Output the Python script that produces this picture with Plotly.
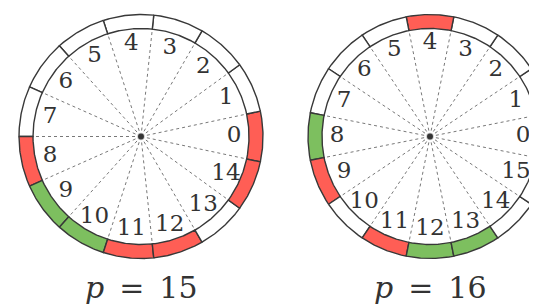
import numpy as np
import plotly.graph_objects as go

# ---- data ----
p_values = [15, 16]
title_numbers = ["15", "16"]
# sector states: r = red, g = green, w = white
states_15 = ["r", "w", "w", "w", "w", "w", "w", "w", "r", "g", "g", "r", "r", "w", "r"]
states_16 = ["r", "w", "w", "w", "r", "w", "w", "w", "g", "r", "w", "r", "g", "g", "w", "w"]
all_states = [states_15, states_16]

# ---- layout constants ----
W, H = 537, 306
centers = [(133.0, 128.5), (422.0, 128.5)]
R_OUT, R_IN, R_LAB, R_DASH0 = 122.0, 108.0, 93.0, 6.0
FILL = {"r": "#ff5e55", "g": "#7dbf5f", "w": "#ffffff"}
EDGE = "#383838"
SERIF = "DejaVu Serif"

fig = go.Figure()

for (cx, cy), p, states, num in zip(centers, p_values, all_states, title_numbers):
    step = 360.0 / p
    # ring sectors
    for k in range(p):
        a1 = np.deg2rad(k * step - step / 2)
        a2 = np.deg2rad(k * step + step / 2)
        t = np.linspace(a1, a2, 40)
        xs = np.concatenate([cx + R_OUT * np.cos(t), cx + R_IN * np.cos(t[::-1])])
        ys = np.concatenate([cy - R_OUT * np.sin(t), cy - R_IN * np.sin(t[::-1])])
        xs = np.append(xs, xs[0])
        ys = np.append(ys, ys[0])
        fig.add_trace(go.Scatter(
            x=xs, y=ys, mode="lines", fill="toself",
            fillcolor=FILL[states[k]],
            line=dict(color=EDGE, width=1.4),
            hoverinfo="skip", showlegend=False))
    # dashed spokes at sector boundaries
    dx, dy = [], []
    for k in range(p):
        a = np.deg2rad(k * step + step / 2)
        dx += [cx + R_DASH0 * np.cos(a), cx + R_IN * np.cos(a), None]
        dy += [cy - R_DASH0 * np.sin(a), cy - R_IN * np.sin(a), None]
    fig.add_trace(go.Scatter(
        x=dx, y=dy, mode="lines",
        line=dict(color="#555555", width=0.8, dash="3px,3px"),
        hoverinfo="skip", showlegend=False))
    # sector labels
    ang = np.deg2rad(np.arange(p) * step)
    fig.add_trace(go.Scatter(
        x=cx + R_LAB * np.cos(ang), y=cy - R_LAB * np.sin(ang),
        mode="text", text=[str(k) for k in range(p)],
        textposition="middle center",
        textfont=dict(family=SERIF, size=23, color="#333333"),
        hoverinfo="skip", showlegend=False))
    # center dot
    fig.add_trace(go.Scatter(
        x=[cx], y=[cy], mode="markers",
        marker=dict(size=6, color="#333333", line=dict(width=1.5, color="rgba(80,80,80,0.35)")),
        hoverinfo="skip", showlegend=False))
    # title
    fig.add_annotation(
        x=cx, y=279, xref="x", yref="y",
        text="<i>p</i>\u2002=\u2002" + num,
        showarrow=False, xanchor="center", yanchor="middle",
        font=dict(family=SERIF, size=30, color="#333333"))

fig.update_layout(
    width=W, height=H,
    margin=dict(l=0, r=0, t=0, b=0),
    paper_bgcolor="white", plot_bgcolor="white",
    xaxis=dict(range=[0, W], visible=False, fixedrange=True),
    yaxis=dict(range=[H, 0], visible=False, fixedrange=True),
)

fig.write_html("out.html")
